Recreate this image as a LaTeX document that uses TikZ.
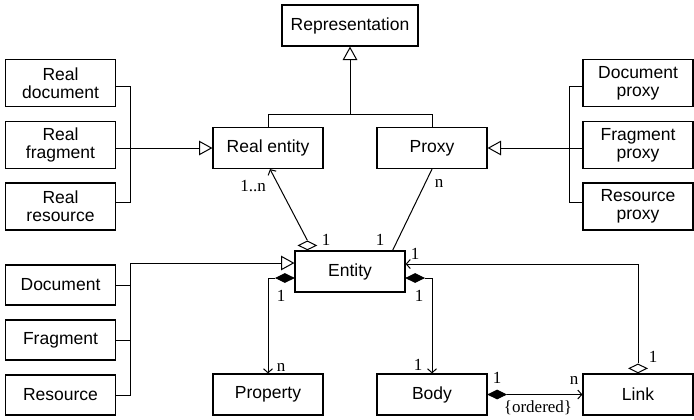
\documentclass[tikz,border=0pt]{standalone}
\usepackage{fontspec}
\setmainfont{Liberation Serif}
\newfontfamily\boxfont{Liberation Sans}
\usetikzlibrary{arrows.meta,calc,shapes.geometric}
\begin{document}
\begin{tikzpicture}[x=0.5pt,y=-0.5pt,
  line width=0.5pt,
  cls/.style={draw, line width=0.6pt, inner sep=0pt, align=center, minimum width=55pt,
    minimum height=20.5pt, font=\boxfont\fontsize{8.75}{9}\selectfont},
  tall/.style={cls, minimum height=23.5pt},
  wide/.style={cls, minimum width=68pt},
  mult/.style={inner sep=0pt, font=\fontsize{8.5}{9}\selectfont},
  odia/.style={diamond, draw, fill=white, inner sep=0pt,
    minimum width=9pt, minimum height=4.5pt},
  fdia/.style={odia, fill=black},
  gen/.style={-{Triangle[open,length=6.7pt,width=7.3pt]}},
  nav/.style={-{Straight Barb[length=2pt,width=4.5pt]}},
]
\useasboundingbox (0,0) rectangle (694,419);

% classes
\node[wide] (rep) at (350,25.5) {Representation};
\node[cls] (re) at (268,148) {Real entity};
\node[cls] (px) at (432,148) {Proxy};

\node[tall] (rdoc) at (60.5,83) {Real\\document};
\node[tall] (rfrag) at (60.5,145) {Real\\fragment};
\node[tall] (rres) at (60.5,206.5) {Real\\resource};

\node[tall] (dprox) at (638,83) {Document\\proxy};
\node[tall] (fprox) at (638,145) {Fragment\\proxy};
\node[tall] (rprox) at (638,206.5) {Resource\\proxy};

\node[cls] (ent) at (350,271.5) {Entity};

\node[cls, minimum height=20pt] (doc) at (60.5,285) {Document};
\node[cls, minimum height=20pt] (frag) at (60.5,340) {Fragment};
\node[cls, minimum height=20pt] (res) at (60.5,395) {Resource};

\node[cls] (prop) at (268,394.5) {Property};
\node[cls] (body) at (432,394.5) {Body};
\node[cls] (link) at (638,394.5) {Link};

% generalisation to Representation
\coordinate (gj) at ($(rep.south)+(0,68.3)$);
\draw (re.north) |- (gj) -| (px.north);
\draw[gen] (gj) -- (rep.south);

% real entity subclasses
\draw ($(rdoc.east)+(0,3.7)$) -- ++(14.5,0) |- ($(rres.east)+(0,-3.8)$);
\draw[gen] (rfrag.east |- re.west) -- (re.west);

% proxy subclasses
\draw ($(dprox.west)+(0,3.7)$) -- ++(-13,0) |- ($(rprox.west)+(0,-3.8)$);
\draw[gen] (fprox.west |- px.east) -- (px.east);

% entity subclasses
\draw[gen] (res.east) -- ++(14.5,0) |- ($(ent.west)+(0,-8.5)$);
\draw (doc.east) -- ++(14.5,0);
\draw (frag.east) -- ++(14.5,0);

% Entity -- Real entity
\node[odia, anchor=south] (dre) at ($(ent.north west)+(13,0)$) {};
\draw[nav] (dre.north) -- ($(re.south)+(2,0)$);
\node[mult] at (253,186) {1..n};
\node[mult] at (326,240) {1};

% Entity -- Proxy
\draw (px.south) -- ($(ent.north east)+(-13,0)$);
\node[mult] at (439,183) {n};
\node[mult] at (380,240) {1};

% Entity -- Property
\node[fdia, anchor=east] (dpr) at ($(ent.west)+(0,6.5)$) {};
\draw[nav] (dpr.west) -| (prop.north);
\node[mult] at (281,296) {1};
\node[mult] at (281,367) {n};

% Entity -- Body
\node[fdia, anchor=west] (dbo) at ($(ent.east)+(0,6.5)$) {};
\draw[nav] (dbo.east) -| (body.north);
\node[mult] at (419,296) {1};
\node[mult] at (418,365) {1};

% Body -- Link
\node[fdia, anchor=west] (dbl) at (body.east) {};
\draw[nav] (dbl.east) -- (link.west);
\node[mult] at (497,378) {1};
\node[mult] at (574,380) {n};
\node[mult] at (538,408) {\{ordered\}};

% Link -- Entity
\node[odia, anchor=south] (dli) at (link.north) {};
\draw[nav] (dli.north) |- ($(ent.east)+(0,-7.5)$);
\node[mult] at (653,357) {1};
\node[mult] at (415,254) {1};
\end{tikzpicture}
\end{document}
